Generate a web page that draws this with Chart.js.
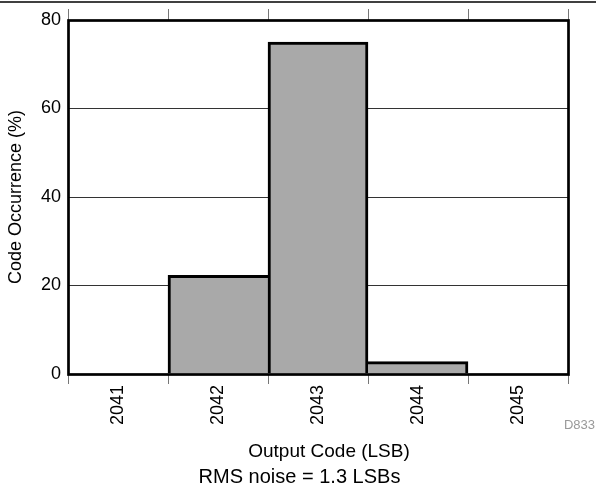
<!DOCTYPE html>
<html>
<head>
<meta charset="utf-8">
<script src="https://cdn.jsdelivr.net/npm/chart.js@4"></script>
<style>
  html, body { margin: 0; padding: 0; background: #fff; overflow: hidden; }
  canvas { display: block; }
</style>
</head>
<body>
<canvas id="noiseChart" width="596" height="491"></canvas>
<script>
// 데이터
const codes = ['2041', '2042', '2043', '2044', '2045'];
const occurrence = [0, 22.3, 75, 2.8, 0];
const yTicks = [0, 20, 40, 60, 80];

const FONT = 'Liberation Sans, Arial, Helvetica, sans-serif';

// 테두리, 위쪽 선, 아래 글자들
const framePlugin = {
  id: 'frame',
  afterDatasetsDraw(chart) {
    const { ctx, chartArea: a } = chart;
    ctx.save();
    ctx.strokeStyle = '#000';
    ctx.lineWidth = 2.7;
    ctx.strokeRect(a.left + 0.5, a.top + 0.5, a.right - a.left, a.bottom - a.top);
    ctx.restore();
  },
  afterDraw(chart) {
    const ctx = chart.ctx;
    ctx.save();
    ctx.strokeStyle = '#000';
    ctx.lineWidth = 1.3;
    ctx.beginPath();
    ctx.moveTo(0, 2);
    ctx.lineTo(chart.width, 2);
    ctx.stroke();

    ctx.fillStyle = '#000';
    ctx.textAlign = 'center';
    ctx.textBaseline = 'middle';
    ctx.font = '19px ' + FONT;
    ctx.fillText('Output Code (LSB)', 329, 452);
    ctx.font = '20px ' + FONT;
    ctx.fillText('RMS noise = 1.3 LSBs', 299.5, 477);

    ctx.fillStyle = '#999';
    ctx.font = '13px ' + FONT;
    ctx.textAlign = 'right';
    ctx.textBaseline = 'alphabetic';
    ctx.fillText('D833', 595, 429);
    ctx.restore();
  }
};

// 막대 테두리: 이웃보다 높은 막대만 옆면을 그림
function barBorder(c) {
  const i = c.dataIndex;
  const v = occurrence[i];
  const prev = i > 0 ? occurrence[i - 1] : 0;
  const next = i < occurrence.length - 1 ? occurrence[i + 1] : 0;
  return {
    top: 3,
    bottom: 0,
    left: prev < v ? 3 : 0,
    right: next < v ? 3 : 0
  };
}

function renderChart() {
  const ctx = document.getElementById('noiseChart').getContext('2d');
  new Chart(ctx, {
    type: 'bar',
    data: {
      labels: codes,
      datasets: [{
        data: occurrence,
        backgroundColor: '#a9a9a9',
        borderColor: '#000',
        borderWidth: barBorder,
        borderSkipped: false,
        barPercentage: 1,
        categoryPercentage: 1
      }]
    },
    options: {
      responsive: false,
      animation: false,
      events: [],
      layout: { padding: { top: 9, right: 28, left: 0, bottom: 25 } },
      plugins: {
        legend: { display: false },
        tooltip: { enabled: false }
      },
      scales: {
        x: {
          type: 'category',
          position: 'bottom',
          offset: true,
          grid: {
            offset: true,
            drawOnChartArea: false,
            tickLength: 10,
            color: '#777',
            tickColor: '#777',
            lineWidth: 1
          },
          border: { display: false },
          ticks: {
            maxRotation: 90,
            minRotation: 90,
            padding: 1,
            color: '#000',
            font: { family: FONT, size: 18 }
          },
          afterFit(scale) { scale.height = 92; }
        },
        x2: {
          type: 'category',
          labels: codes,
          position: 'top',
          offset: true,
          grid: {
            offset: true,
            drawOnChartArea: false,
            tickLength: 11,
            color: '#777',
            tickColor: '#777',
            lineWidth: 1
          },
          border: { display: false },
          ticks: { display: false },
          afterFit(scale) { scale.height = 11; }
        },
        y: {
          min: 0,
          max: 80,
          afterBuildTicks(scale) {
            scale.ticks = yTicks.map(v => ({ value: v }));
          },
          grid: {
            drawTicks: false,
            color: '#333',
            lineWidth: 1
          },
          border: { display: false },
          ticks: {
            padding: 7,
            color: '#000',
            font: { family: FONT, size: 18 }
          },
          title: {
            display: true,
            text: 'Code Occurrence (%)',
            color: '#000',
            font: { family: FONT, size: 18 },
            padding: { top: 5, bottom: 0 }
          },
          afterFit(scale) { scale.width = 68; }
        }
      }
    },
    plugins: [framePlugin]
  });
}

window.onload = renderChart;
</script>
</body>
</html>
